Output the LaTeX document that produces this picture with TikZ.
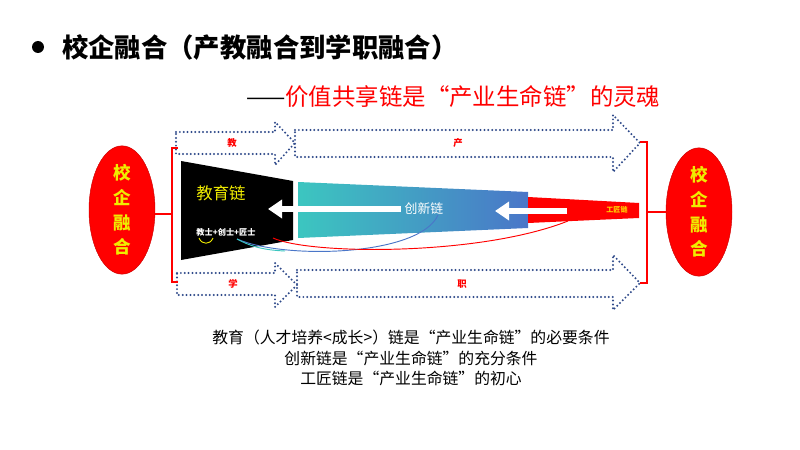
\documentclass[tikz,border=0pt]{standalone}
\usepackage{fontspec}
\setmainfont{Noto Sans CJK SC}
\usetikzlibrary{arrows.meta,shapes.geometric}

\definecolor{dotblue}{HTML}{2F4A8A}
\definecolor{tealc}{HTML}{3CC6C0}
\definecolor{bluec}{HTML}{4A76C8}
\definecolor{yel}{HTML}{F0EC00}
\definecolor{gold}{HTML}{FFD200}

\begin{document}
\begin{tikzpicture}[
  x=0.03cm, y=-0.03cm,
  dotarrow/.style={draw=dotblue, line width=1.9pt, dash pattern=on 0pt off 3.3pt,
                   line cap=round, line join=round},
  tag/.style={font=\fontsize{8}{8}\selectfont\bfseries, text=red, inner sep=0pt},
  unity/.style={ellipse, fill=red, draw=red!80!black, minimum width=1.98cm,
                minimum height=3.3cm, inner sep=0pt, align=center, text=yel,
                font=\fontsize{15}{21}\selectfont\bfseries},
  brk/.style={draw=red, line width=1.5pt},
  whitearrow/.style={draw=white, line width=0.17cm,
                     -{Triangle[length=0.42cm,width=0.54cm]}},
  link/.style={line width=0.8pt}
]
\useasboundingbox (0,0) rectangle (800,450);

% ── heading ──────────────────────────────────────────────────────────
\fill (38,47) circle[radius=0.18cm];
\node[anchor=west, font=\fontsize{22.5}{22.5}\selectfont\bfseries] (title) at (58,47)
      {校企融合（产教融合到学职融合）};
\node[anchor=west, font=\fontsize{20}{20}\selectfont] (motto) at (242,97)
      {——\textcolor{red}{价值共享链是“产业生命链”的灵魂}};

% ── dotted arrows, top and bottom ────────────────────────────────────
\draw[dotarrow] (176,132) -- (275,132) -- (275,122) -- (295,143) -- (275,165)
      -- (275,154) -- (176,154) -- cycle;
\draw[dotarrow] (295,130) -- (613,130) -- (613,115) -- (640,143) -- (613,172)
      -- (613,157) -- (295,157) -- cycle;
\draw[dotarrow] (177,273) -- (275,273) -- (275,263) -- (297,285) -- (275,307)
      -- (275,295) -- (177,295) -- cycle;
\draw[dotarrow] (297,270) -- (613,270) -- (613,255) -- (640,283) -- (613,310)
      -- (613,297) -- (297,297) -- cycle;
\node[tag] (jiao) at (232,143) {教};
\node[tag] (chan) at (458,143) {产};
\node[tag] (xue)  at (233,284) {学};
\node[tag] (zhi)  at (462,284) {职};

% ── the three chains ─────────────────────────────────────────────────
\fill[black] (181,161) -- (293,181) -- (293,240) -- (181,260) -- cycle;
\shade[left color=tealc, right color=bluec]
      (298,182) -- (528,192) -- (528,228) -- (298,238) -- cycle;
\fill[red] (528,197) -- (639,203) -- (639,218) -- (528,223) -- cycle;

\node[font=\fontsize{14}{14}\selectfont, text=yel] (educh) at (221,193) {教育链};
\node[font=\fontsize{7}{7}\selectfont\bfseries, text=white] (talent) at (226,232)
      {教士+创士+匠士};
\node[font=\fontsize{11}{11}\selectfont, text=white] (innov) at (424,209) {创新链};
\node[font=\fontsize{6}{6}\selectfont\bfseries, text=gold] (craft) at (617,210) {工匠链};

\coordinate (edutip) at (268,209);
\coordinate (craftend) at (567,211);
\coordinate (innotip) at (495,211);
\draw[whitearrow] (innov.west) -- (edutip);
\draw[whitearrow] (craftend) -- (innotip);

% ── links from the talents to their chains ───────────────────────────
\coordinate (chuang) at (237,239);
\coordinate (jiang)  at (273,238);
\coordinate (innlink) at (438,215);
\coordinate (crlink)  at (568,221);
\draw[link, yel] (199,238) .. controls (202,245) and (210,245) .. (213,238);
\draw[link, bluec] (chuang) .. controls (285,260) and (420,256) .. (innlink);
\draw[link, tealc] (chuang) .. controls (250,246) and (262,250) .. (285,251);
\draw[link, red] (jiang) .. controls (310,255) and (480,256) .. (crlink);

% ── school--enterprise unity on both sides ───────────────────────────
\node[unity] (lunity) at (122,210) {校\\企\\融\\合};
\node[unity] (runity) at (699,212) {校\\企\\融\\合};
\draw[brk] (178,148) -- (172,148) -- (172,282) -- (178,282);
\draw[brk] (640,142) -- (647,142) -- (647,283) -- (640,283);
\coordinate (lbrk) at (172,214);
\coordinate (rbrk) at (647,212);
\draw[brk] (lbrk) -- (lbrk -| lunity.east);
\draw[brk] (rbrk) -- (rbrk -| runity.west);

% ── notes ────────────────────────────────────────────────────────────
\node[align=center, font=\fontsize{13.5}{17.5}\selectfont] (notes) at (411,358)
      {教育（人才培养<成长>）链是“产业生命链”的必要条件\\
       创新链是“产业生命链”的充分条件\\
       工匠链是“产业生命链”的初心};

\end{tikzpicture}
\end{document}
